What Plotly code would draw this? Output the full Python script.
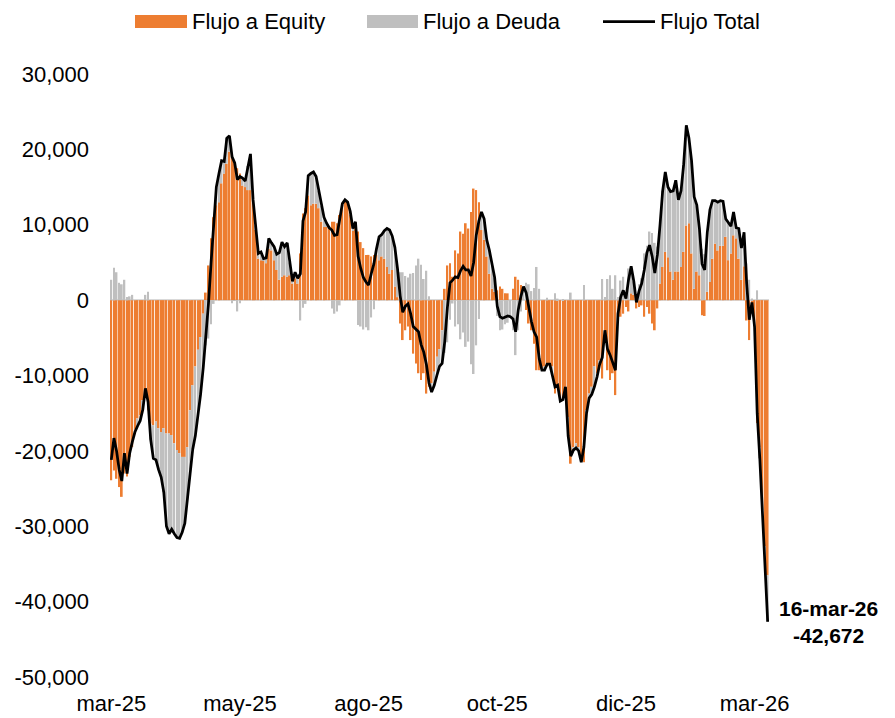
import plotly.graph_objects as go

# Flujo Total (line) and Flujo a Equity (orange bars)
flujo_total = [
    -21200, -18300, -20000, -22500, -24000, -20300, -23000, -20300, -18800, -17500,
    -16700, -16000, -14500, -11700, -13500, -18500, -21000, -21200, -22500, -23500,
    -25500, -30000, -31000, -30400, -31000, -31500, -31600, -30800, -29600, -26500,
    -22500, -19800, -18000, -15500, -12500, -9000, -5000, -500, 5000, 10500,
    15000, 16800, 18500, 18400, 21500, 21800, 19000, 18200, 16000, 16400,
    16200, 15800, 17800, 19400, 13300, 9900, 6200, 6400, 5500, 5600,
    8200, 7600, 7100, 6100, 6300, 7700, 7100, 7600, 5000, 2500,
    3700, 2900, 3500, 10500, 11700, 16500, 16800, 17000, 16400, 14500,
    12500, 11000, 10200, 9600, 9300, 8600, 8700, 10600, 12800, 13300,
    13000, 11800, 9500, 10400, 5800, 4200, 3000, 2400, 2000, 3500,
    4800, 6800, 8400, 8700, 9200, 9500, 9300, 8500, 7000, 4200,
    600, -1600, -800, -500, -1800, -3500, -3800, -4200, -5900, -6900,
    -8500, -11000, -12200, -11300, -10000, -8800, -8400, -5500, -1000, 2300,
    2650, 3100, 3000, 3900, 4500, 4000, 4000, 3200, 5000, 8600,
    10500, 11700, 10800, 8000, 6600, 5000, 3000, -800, -2200, -2400,
    -2300, -2100, -2200, -2500, -4200, -1300, 500, 1800, 1000, -1000,
    -2800, -4200, -4900, -7800, -9300, -9300, -8500, -8500, -10000, -11500,
    -11300, -13400, -13200, -11500, -18000, -20700, -19900, -19600, -20000, -21500,
    -19500, -15000, -13000, -12500, -11500, -10200, -8500, -7600, -4000, -6500,
    -7300, -8200, -9300, -1800, 400, 1300, 200, 2700, 4500, 2500,
    -300, 1200, 2200, 4000, 6300, 7300, 5800, 3600, 6000, 10000,
    14500, 17000, 15000, 14400, 14500, 15900, 13300, 14500, 18000, 23200,
    21500, 18500, 13700, 12600, 9500, 4800, 4000, 9000, 12000, 13200,
    13200, 13000, 13200, 13100, 10800, 10300, 9800, 11700, 9600, 9500,
    6900, 9000, 2200, -2600, -300, -3500, -15000, -21000, -27800, -36500, -42672,
]

flujo_equity = [
    -23900, -22600, -23700, -24800, -26100, -23000, -23400, -20800, -19500, -17200,
    -15700, -15300, -13300, -12400, -14600, -16400, -16600, -16100, -17000, -17500,
    -17000, -17700, -17700, -17900, -19000, -19900, -20300, -20800, -20800, -19500,
    -14600, -11300, -8800, -6600, -4900, -1800, 1000, 4600, 8200, 11000,
    12600, 13000, 15500, 16800, 18100, 19700, 19400, 18300, 17500, 16800,
    15200, 15000, 14600, 14600, 13000, 9300, 5500, 5300, 5300, 4900,
    6800, 6600, 5300, 4000, 2700, 3100, 3300, 3100, 3300, 2200,
    2900, 2200, 6200, 11500, 12200, 13900, 12600, 12800, 12800, 12200,
    10400, 9700, 9700, 9500, 10400, 10400, 10200, 11300, 12600, 13300,
    13000, 11300, 9300, 10000, 9100, 7700, 6900, 6000, 6000, 5800,
    6000, 6000, 5300, 5800, 5500, 4400, 3500, 4000, 1800, 400,
    -3100, -5300, -4000, -3500, -5300, -7100, -8400, -9700, -10600, -9700,
    -12400, -11500, -11000, -9500, -7500, -6500, -4000, 1500, 4600, 4900,
    3100, 6600, 6200, 9100, 8800, 10200, 9500, 11700, 14800, 14600,
    13000, 9300, 8000, 5800, 3500, 1500, 1100, 1300, 1800, 1500,
    900, 900, 0, 1500, 3100, 2700, 2000, 0, -1300, -3100,
    -4000, -5800, -9300, -9300, -9000, -8800, -8800, -8400, -8800, -12400,
    -11500, -13300, -13300, -11500, -15500, -21700, -19500, -19000, -19500, -20800,
    -21500, -14600, -12400, -11500, -8800, -9700, -8000, -10400, -4400, -9300,
    -10600, -9700, -12600, -2200, -2200, -1800, -900, -1500, 900, 700,
    -1100, -900, -700, -2200, -900, -1800, -3100, -4000, -1100, 2200,
    4400, 6400, 5700, 3800, 2700, 3800, 3800, 4400, 6400, 9900,
    10200, 6200, 1500, 3800, 3300, -2000, -2100, 1100, 2400, 5500,
    7500, 6600, 7200, 7200, 8400, 5300, 6200, 8600, 8200, 5500,
    2700, 4500, -2700, -5300, -500, -3500, -16300, -19500, -27800, -32700, -36500,
]

# Flujo Total = Flujo a Equity + Flujo a Deuda
flujo_deuda = [t - e for t, e in zip(flujo_total, flujo_equity)]

dias = list(range(len(flujo_total)))
tick_pos = [0, 49, 98, 147, 196, 245]
tick_labels = ["mar-25", "may-25", "ago-25", "oct-25", "dic-25", "mar-26"]
y_ticks = [30000, 20000, 10000, 0, -10000, -20000, -30000, -40000, -50000]
ultima_fecha = "16-mar-26"

# the page body adds an 8 px offset; work in screen pixels and convert
OFF = 8
W, H = 895 - OFF, 718 - OFF
LEFT, RIGHT, TOP, BOTTOM = 110, 769, 74, 677  # plot area in screen px
ML, MT = LEFT - OFF, TOP - OFF
MR, MB = W - (RIGHT - OFF), H - (BOTTOM - OFF)
PW, PH = RIGHT - LEFT, BOTTOM - TOP


def px(x):
    return (x - LEFT) / PW


def py(y):
    return (BOTTOM - y) / PH


ORANGE = "#ED7D31"
GRAY = "#BFBFBF"
FONT = "Liberation Sans, Arial, sans-serif"
FS = 22

fig = go.Figure()
fig.add_trace(go.Bar(x=dias, y=flujo_equity, name="Flujo a Equity",
                     marker=dict(color=ORANGE, line=dict(width=0)), showlegend=False))
fig.add_trace(go.Bar(x=dias, y=flujo_deuda, name="Flujo a Deuda",
                     marker=dict(color=GRAY, line=dict(width=0)), showlegend=False))
fig.add_trace(go.Scatter(x=dias, y=flujo_total, name="Flujo Total", mode="lines",
                         line=dict(color="black", width=2.75), showlegend=False))

# custom legend
shapes = [
    dict(type="rect", xref="paper", yref="paper", x0=px(135), x1=px(187), y0=py(28), y1=py(15),
         fillcolor=ORANGE, line=dict(width=0)),
    dict(type="rect", xref="paper", yref="paper", x0=px(367), x1=px(418), y0=py(28), y1=py(15),
         fillcolor=GRAY, line=dict(width=0)),
    dict(type="line", xref="paper", yref="paper", x0=px(603), x1=px(655), y0=py(21.5), y1=py(21.5),
         line=dict(color="black", width=2.75)),
]
annotations = []
for xt, txt in [(190, "Flujo a Equity"), (421, "Flujo a Deuda"), (658, "Flujo Total")]:
    annotations.append(dict(xref="paper", yref="paper", x=px(xt), y=py(21.5), text=txt,
                            showarrow=False, xanchor="left", yanchor="middle",
                            font=dict(family=FONT, size=FS, color="black")))

annotations.append(dict(xref="paper", yref="y", x=px(829), y=flujo_total[-1],
                        text=f"<b>{ultima_fecha}</b><br><b>{flujo_total[-1]:,}</b>",
                        showarrow=False, xanchor="center", yanchor="middle", align="center",
                        font=dict(family=FONT, size=21, color="black")))

fig.update_layout(
    width=W, height=H,
    margin=dict(l=ML, r=MR, t=MT, b=MB, autoexpand=False),
    paper_bgcolor="white", plot_bgcolor="white",
    barmode="relative", bargap=0.35,
    shapes=shapes, annotations=annotations,
    font=dict(family=FONT, size=FS, color="black"),
    showlegend=False,
)
fig.update_xaxes(range=[-0.5, len(dias) - 0.5], tickmode="array", tickvals=tick_pos,
                 ticktext=tick_labels, showgrid=False, zeroline=False, showline=False,
                 ticks="", tickfont=dict(size=FS, color="black"), ticklabelstandoff=11)
fig.update_yaxes(range=[-50000, 30000], tickmode="array", tickvals=y_ticks,
                 ticktext=[f"{v:,}" for v in y_ticks], showgrid=False, zeroline=True,
                 zerolinecolor="#D9D9D9", zerolinewidth=1.5, showline=False, ticks="",
                 tickfont=dict(size=FS, color="black"), ticklabelstandoff=20)

fig.write_html("out.html")
